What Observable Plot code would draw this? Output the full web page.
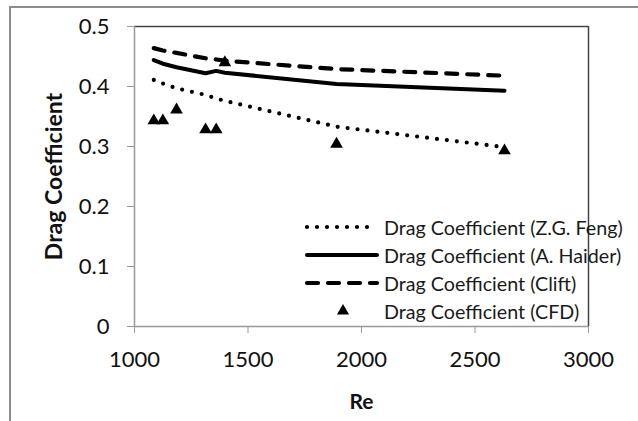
<!DOCTYPE html>
<html>
<head>
<meta charset="utf-8">
<script src="https://cdn.jsdelivr.net/npm/d3@7"></script>
<script src="https://cdn.jsdelivr.net/npm/@observablehq/plot@0.6"></script>
<style>
  html, body { margin: 0; padding: 0; background: #fff; }
  #wrap { position: relative; width: 638px; height: 421px; overflow: hidden; font-family: Lato, "Open Sans", sans-serif; }
  #frame { position: absolute; left: 9px; top: 6px; width: 700px; height: 500px; border-top: 2px solid #8c8c8c; border-left: 2px solid #8c8c8c; }
  #chart { position: absolute; left: 0; top: 0; }
  #legend { position: absolute; left: 303px; top: 213px; color: #1a1a1a; font-size: 19.7px; }
  #legend .row { display: flex; align-items: center; height: 28px; }
  #legend .row svg { width: 78px; height: 28px; margin-right: 3px; }
  g[aria-label="x-axis label"] text { font-weight: bold; font-size: 21px; }
  g[aria-label="y-axis label"] text { font-weight: bold; font-size: 23px; }
</style>
</head>
<body>
<div id="wrap">
  <div id="frame"></div>
  <div id="chart"></div>
  <div id="legend"></div>
</div>
<script>
// Data
const re     = [1085, 1125, 1185, 1313, 1360, 1398, 1890, 2630];
const cfd    = [0.343, 0.343, 0.361, 0.328, 0.328, 0.440, 0.304, 0.293];
const feng   = [0.411, 0.405, 0.397, 0.386, 0.380, 0.376, 0.333, 0.299];
const haider = [0.444, 0.438, 0.432, 0.422, 0.426, 0.423, 0.404, 0.393];
const clift  = [0.464, 0.460, 0.456, 0.447, 0.445, 0.443, 0.429, 0.418];
const xTicks = [1000, 1500, 2000, 2500, 3000];
const yTicks = [0, 0.1, 0.2, 0.3, 0.4, 0.5];
const seriesNames = [
  "Drag Coefficient (Z.G. Feng)",
  "Drag Coefficient (A. Haider)",
  "Drag Coefficient (Clift)",
  "Drag Coefficient (CFD)"
];

const rows = (ys) => re.map((x, i) => ({x, y: ys[i]}));

const chart = Plot.plot({
  width: 638,
  height: 421,
  marginLeft: 134,
  marginRight: 50,
  marginTop: 26,
  marginBottom: 95,
  style: { fontFamily: "Lato, 'Open Sans', sans-serif", fontSize: "22px", color: "#111", background: "transparent" },
  x: { domain: [1000, 3000] },
  y: { domain: [0, 0.5] },
  marks: [
    Plot.ruleY([0.5], { stroke: "#444", strokeWidth: 1.5 }),
    Plot.ruleX([3000], { stroke: "#444", strokeWidth: 1.5 }),
    Plot.ruleX([1000], { stroke: "#9a9a9a", strokeWidth: 1.5 }),
    Plot.ruleY([0], { stroke: "#9a9a9a", strokeWidth: 1.5 }),
    Plot.axisX({ ticks: xTicks, tickFormat: d => String(d), tickSize: 7, tickPadding: 18, stroke: "#9a9a9a",
                 label: "Re", labelAnchor: "center", labelArrow: "none", labelOffset: 82 }),
    Plot.axisY({ ticks: yTicks, tickFormat: d => d === 0 ? "0" : d3.format(".1f")(d), tickSize: 7, tickPadding: 18, stroke: "#9a9a9a",
                 label: "Drag Coefficient", labelAnchor: "center", labelArrow: "none", labelOffset: 89 }),
    Plot.line(rows(clift), { x: "x", y: "y", stroke: "#000", strokeWidth: 4.2, strokeDasharray: "11,10", strokeLinecap: "round" }),
    Plot.line(rows(haider), { x: "x", y: "y", stroke: "#000", strokeWidth: 4, strokeLinecap: "round" }),
    Plot.line(rows(feng), { x: "x", y: "y", stroke: "#000", strokeWidth: 4.2, strokeDasharray: "0,10", strokeLinecap: "round" }),
    Plot.dot(rows(cfd), { x: "x", y: "y", symbol: "triangle", r: 4.7, fill: "#000", stroke: "none" })
  ]
});
document.getElementById("chart").appendChild(chart);

// Legend
const styles = [
  { dash: "0,10", width: 4.2, kind: "line" },
  { dash: null, width: 4, kind: "line" },
  { dash: "11,10", width: 4.2, kind: "line" },
  { kind: "symbol" }
];
const legend = d3.select("#legend");
seriesNames.forEach((name, i) => {
  const row = legend.append("div").attr("class", "row");
  const svg = row.append("svg").attr("viewBox", "0 0 78 28");
  const st = styles[i];
  if (st.kind === "line") {
    svg.append("line").attr("x1", 4).attr("x2", 74).attr("y1", 14).attr("y2", 14)
      .attr("stroke", "#000").attr("stroke-width", st.width).attr("stroke-linecap", "round")
      .attr("stroke-dasharray", st.dash);
  } else {
    svg.append("path").attr("transform", "translate(40,14)")
      .attr("d", d3.symbol(d3.symbolTriangle, 4.5 * 4.5 * Math.PI)()).attr("fill", "#000");
  }
  row.append("span").text(name);
});
</script>
</body>
</html>
